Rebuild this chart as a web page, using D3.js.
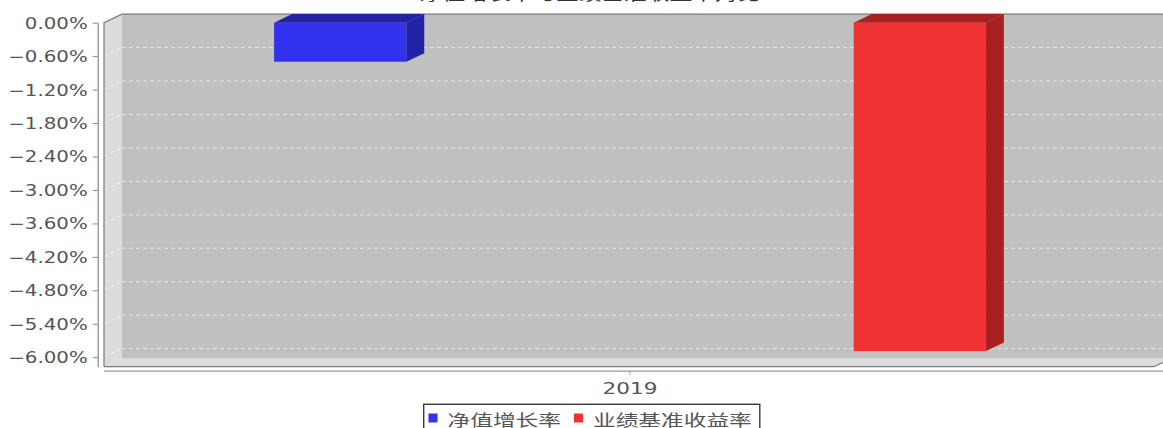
<!DOCTYPE html>
<html>
<head>
<meta charset="utf-8">
<script src="https://cdn.jsdelivr.net/npm/d3@7"></script>
<style>
  html, body { margin: 0; padding: 0; background: #ffffff; }
  svg { display: block; }
</style>
</head>
<body>
<svg id="chart" width="1163" height="428"></svg>
<script>
// ---- data ----
const titleText = "净值增长率与业绩基准收益率对比";
const categories = ["2019"];
const seriesNames = ["净值增长率", "业绩基准收益率"];
const seriesValues = [-0.70, -5.89];          // percent, for category 2019
const yTickValues = [0, -0.6, -1.2, -1.8, -2.4, -3.0, -3.6, -4.2, -4.8, -5.4, -6.0];
const yDomain = [-6.17, 0];

// ---- styles ----
const frontColors = ["#3131ee", "#ee3131"];
const darkColors = ["#2222a6", "#a82020"];
const textColor = "#555555";
const sx = 1.32; // horizontal stretch of text

// ---- layout ----
const pLeft = 104, pRight = 1154, pTop = 22.7, pBottom = 366.7;
const dx = 18, dy = 8.6;

const svg = d3.select("#chart");

const y = d3.scaleLinear().domain(yDomain).range([pBottom, pTop]);
const x0 = d3.scaleBand().domain(categories).range([pLeft, 1156])
  .paddingInner(0).paddingOuter(0.239);
const x1 = d3.scaleBand().domain(seriesNames).range([0, x0.bandwidth()])
  .paddingInner(0.772).paddingOuter(0);

function stretchedText(g, x, yPos, txt, size, anchor, scale, family) {
  return g.append("text")
    .attr("transform", `translate(${x},${yPos}) scale(${scale},1)`)
    .attr("text-anchor", anchor)
    .attr("font-family", family || "'DejaVu Sans', sans-serif")
    .attr("font-size", size)
    .attr("fill", textColor)
    .text(txt);
}

// title (mostly cut off at top, as in the reference)
stretchedText(svg, 590, 0.3, titleText, 16, "middle", 1.42, "'Noto Sans CJK SC', sans-serif")
  .attr("fill", "#333");

// back wall
svg.append("rect")
  .attr("x", pLeft + dx).attr("y", pTop - dy)
  .attr("width", 1163 - pLeft).attr("height", pBottom - pTop)
  .attr("fill", "#c0c0c0");

// left wall
svg.append("polygon")
  .attr("points", [[pLeft, pTop], [pLeft + dx, pTop - dy], [pLeft + dx, pBottom - dy], [pLeft, pBottom]].join(" "))
  .attr("fill", "#dcdcdc");

// floor
svg.append("polygon")
  .attr("points", [[pLeft, pBottom], [pLeft + dx, pBottom - dy], [pRight + dx, pBottom - dy], [pRight, pBottom]].join(" "))
  .attr("fill", "#dcdcdc");

// gridlines on back wall + left wall
const grid = svg.append("g");
yTickValues.forEach(v => {
  const yy = y(v);
  grid.append("line")
    .attr("x1", pLeft + dx).attr("x2", 1163)
    .attr("y1", yy - dy).attr("y2", yy - dy)
    .attr("stroke", "#e6e6e6").attr("stroke-width", 1)
    .attr("stroke-dasharray", "4,3");
  grid.append("line")
    .attr("x1", pLeft).attr("x2", pLeft + dx)
    .attr("y1", yy).attr("y2", yy - dy)
    .attr("stroke", "#f2f2f2").attr("stroke-width", 1)
    .attr("stroke-dasharray", "4,3");
});

// outlines
svg.append("path")
  .attr("d", `M${pLeft},${pBottom} L${pLeft},${pTop} L${pLeft + dx},${pTop - dy} L1163,${pTop - dy}`)
  .attr("fill", "none").attr("stroke", "#7a7a7a").attr("stroke-width", 1.2);
svg.append("path")
  .attr("d", `M${pLeft},${pBottom} L${pRight},${pBottom} L${pRight + dx},${pBottom - dy}`)
  .attr("fill", "none").attr("stroke", "#7a7a7a").attr("stroke-width", 1.2);

// bars
const bars = svg.append("g");
seriesNames.forEach((s, i) => {
  const v = seriesValues[i];
  const xl = x0(categories[0]) + x1(s);
  const xr = xl + x1.bandwidth();
  const y0 = y(0), yv = y(v);
  bars.append("polygon")
    .attr("points", [[xl, y0], [xl + dx, y0 - dy], [xr + dx, y0 - dy], [xr, y0]].join(" "))
    .attr("fill", darkColors[i]);
  bars.append("polygon")
    .attr("points", [[xr, y0], [xr + dx, y0 - dy], [xr + dx, yv - dy], [xr, yv]].join(" "))
    .attr("fill", darkColors[i]);
  bars.append("rect")
    .attr("x", xl).attr("y", Math.min(y0, yv))
    .attr("width", x1.bandwidth()).attr("height", Math.abs(yv - y0))
    .attr("fill", frontColors[i]);
});

// y axis
const fmt = d3.format(".2f");
const yAxis = d3.axisLeft(y).tickValues(yTickValues)
  .tickFormat(d => fmt(d) + "%").tickSize(5).tickSizeOuter(0).tickPadding(0);
const yg = svg.append("g").attr("transform", "translate(97.7,0)").call(yAxis);
yg.select(".domain").attr("stroke", "#888").attr("stroke-width", 1.2);
yg.selectAll(".tick line").attr("stroke", "#888");
yg.selectAll(".tick text")
  .attr("x", null).attr("dy", "0.36em")
  .attr("transform", `translate(-10,0) scale(${sx},1)`)
  .attr("font-family", "'DejaVu Sans', sans-serif")
  .attr("font-size", 15).attr("fill", textColor);

// x axis
const xAxis = d3.axisBottom(x0).tickSize(4).tickSizeOuter(0).tickPadding(0);
const xg = svg.append("g").attr("transform", "translate(0,370.7)").call(xAxis);
xg.select(".domain").attr("d", `M${pLeft},0.5H1163`).attr("stroke", "#999").attr("stroke-width", 1.2);
xg.selectAll(".tick line").attr("stroke", "#999");
xg.selectAll(".tick text")
  .attr("y", null).attr("dy", null)
  .attr("transform", `translate(0,23.5) scale(1.35,1)`)
  .attr("font-family", "'DejaVu Sans', sans-serif")
  .attr("font-size", 16).attr("fill", textColor);

// legend
const legend = svg.append("g");
const box = legend.append("rect")
  .attr("x", 423.7).attr("y", 404.3).attr("height", 30)
  .attr("fill", "#fff").attr("stroke", "#3a3a3a").attr("stroke-width", 1.4);
let lx = 428.5;
seriesNames.forEach((s, i) => {
  legend.append("rect")
    .attr("x", lx).attr("y", 413.5).attr("width", 9).attr("height", 9)
    .attr("fill", frontColors[i]);
  const t = stretchedText(legend, lx + 19, 425.5, s, 16, "start", 1.42, "'Noto Sans CJK SC', sans-serif");
  const w = t.node().getComputedTextLength() * 1.42;
  lx = lx + 19 + w + 13;
});
box.attr("width", lx - 13 + 8 - 423.7);
</script>
</body>
</html>
